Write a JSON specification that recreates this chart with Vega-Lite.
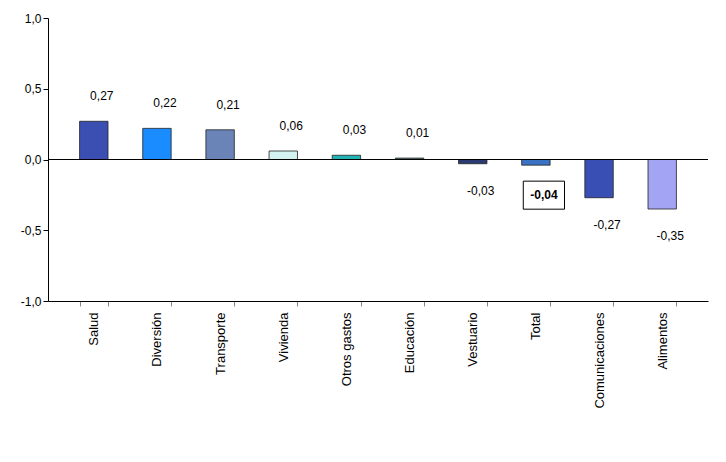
{
  "$schema": "https://vega.github.io/schema/vega-lite/v6.json",
  "width": 660,
  "height": 283,
  "padding": {"left": 20, "top": 12, "right": 5, "bottom": 5},
  "config": {"font": "Liberation Sans", "view": {"stroke": null}},
  "data": {
    "values": [
      {"cat": "Salud", "v": 0.27, "c": "#3b4fb3"},
      {"cat": "Diversión", "v": 0.22, "c": "#1a8cff"},
      {"cat": "Transporte", "v": 0.21, "c": "#6a84b8"},
      {"cat": "Vivienda", "v": 0.06, "c": "#d4f2f2"},
      {"cat": "Otros gastos", "v": 0.03, "c": "#22b4b4"},
      {"cat": "Educación", "v": 0.01, "c": "#4a7c84"},
      {"cat": "Vestuario", "v": -0.03, "c": "#2b3b72"},
      {"cat": "Total", "v": -0.04, "c": "#3a72c4"},
      {"cat": "Comunicaciones", "v": -0.27, "c": "#3a4fb4"},
      {"cat": "Alimentos", "v": -0.35, "c": "#a4a4f4"}
    ]
  },
  "transform": [{"calculate": "replace(replace(format(datum.v, '.2f'), '.', ','), '\u2212', '-')", "as": "lbl"}],
  "encoding": {
    "x": {"field": "cat", "type": "nominal", "sort": null,
      "scale": {"paddingInner": 0.55, "paddingOuter": 0.5},
      "axis": {"title": null, "labelAngle": -90, "labelFontSize": 13, "labelColor": "#000", "ticks": true, "tickBand": "extent", "domainColor": "#000", "labelPadding": 6}}
  },
  "layer": [
    {
      "mark": {"type": "bar", "stroke": "#222", "strokeWidth": 0.8},
      "encoding": {
        "y": {"field": "v", "type": "quantitative",
          "scale": {"domain": [-1, 1]},
          "axis": {"title": null, "values": [-1, -0.5, 0, 0.5, 1], "grid": false, "labelFontSize": 12, "labelColor": "#000", "domainColor": "#000", "tickColor": "#000",
            "labelExpr": "replace(replace(format(datum.value, '.1f'), '.', ','), '\u2212', '-')"}},
        "color": {"field": "c", "type": "nominal", "scale": null}
      }
    },
    {
      "mark": {"type": "rule", "color": "#000", "strokeWidth": 1},
      "data": {"values": [{"z": 0}]},
      "encoding": {"y": {"field": "z", "type": "quantitative"}, "x": null}
    },
    {
      "mark": {"type": "text", "fontSize": 12, "dx": 8, "baseline": "bottom", "dy": -18},
      "transform": [{"filter": "datum.v >= 0"}],
      "encoding": {
        "y": {"field": "v", "type": "quantitative"},
        "text": {"field": "lbl"}
      }
    },
    {
      "mark": {"type": "text", "fontSize": 12, "dx": 8, "baseline": "top", "dy": 22},
      "transform": [{"filter": "datum.v < 0 && datum.cat != 'Total'"}],
      "encoding": {
        "y": {"field": "v", "type": "quantitative"},
        "text": {"field": "lbl"}
      }
    },
    {
      "mark": {"type": "point", "shape": "M-1,-0.68H1V0.68H-1Z", "size": 1700, "filled": false, "stroke": "#000", "strokeWidth": 1, "opacity": 1, "yOffset": 30, "xOffset": 8},
      "transform": [{"filter": "datum.cat == 'Total'"}],
      "encoding": {"y": {"field": "v", "type": "quantitative"}}
    },
    {
      "mark": {"type": "text", "fontSize": 12, "fontWeight": "bold", "dx": 8, "baseline": "middle", "dy": 30},
      "transform": [{"filter": "datum.cat == 'Total'"}],
      "encoding": {
        "y": {"field": "v", "type": "quantitative"},
        "text": {"field": "lbl"}
      }
    }
  ]
}
